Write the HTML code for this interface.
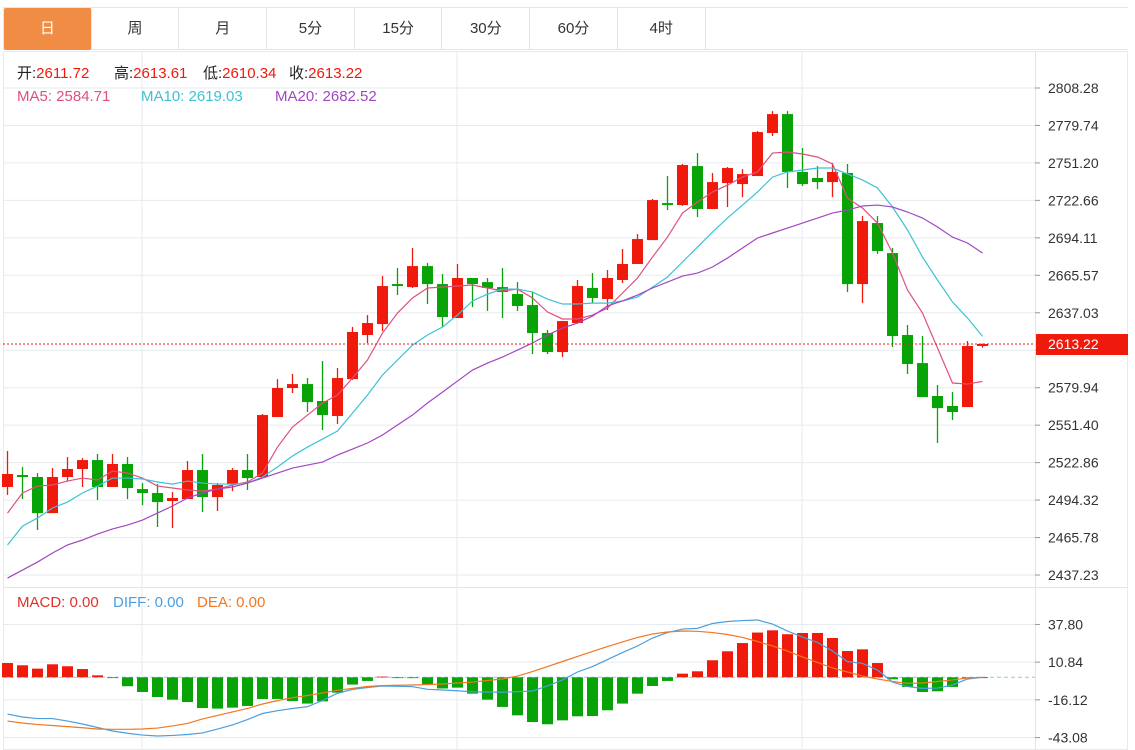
<!DOCTYPE html>
<html><head><meta charset="utf-8">
<style>
body{margin:0;background:#fff;width:1135px;height:750px;overflow:hidden;font-family:"Liberation Sans","Noto Sans CJK SC",sans-serif;}
#tabs{position:absolute;left:3px;top:7px;width:1125px;height:43px;border:1px solid #e3e6ea;border-right:none;display:flex;box-sizing:border-box}
.tab{width:87.7px;height:42px;line-height:42px;text-align:center;font-size:15px;color:#333;border-right:1px solid #e3e6ea;box-sizing:border-box}
.tab.active{background:#f08c44;color:#fff;border-radius:2px}
svg{position:absolute;left:0;top:0}
</style></head><body>
<div id="tabs">
<div class="tab active">日</div>
<div class="tab">周</div>
<div class="tab">月</div>
<div class="tab">5分</div>
<div class="tab">15分</div>
<div class="tab">30分</div>
<div class="tab">60分</div>
<div class="tab">4时</div>
</div>
<svg id="chart" width="1135" height="750"></svg>
<script>
const opens=[2504.3,2513.4,2511.9,2484.4,2511.9,2518.0,2524.8,2504.3,2521.8,2502.7,2499.7,2493.6,2495.1,2517.2,2496.6,2506.5,2517.2,2511.9,2557.6,2579.7,2582.7,2569.8,2558.4,2586.5,2620.1,2628.4,2658.9,2656.6,2672.6,2658.9,2633.0,2663.5,2660.4,2656.6,2651.3,2642.9,2621.6,2607.1,2629.2,2655.9,2647.5,2662.0,2674.2,2692.4,2720.6,2719.1,2748.8,2716.1,2735.9,2735.1,2741.2,2774.0,2788.4,2744.3,2739.7,2736.6,2743.5,2658.9,2705.4,2682.5,2620.1,2598.7,2573.6,2566.0,2565.2,2611.72];
const closes=[2514.2,2511.9,2484.4,2511.9,2518.0,2524.8,2504.3,2521.8,2503.5,2499.7,2492.8,2495.9,2517.2,2496.6,2505.8,2517.2,2511.1,2559.1,2579.7,2582.7,2569.0,2559.1,2587.3,2622.4,2629.2,2657.4,2657.4,2672.6,2658.9,2633.8,2663.5,2658.9,2655.9,2652.8,2642.2,2621.6,2607.1,2630.7,2657.4,2648.3,2663.5,2674.2,2693.2,2722.9,2719.1,2749.6,2716.1,2736.6,2747.3,2742.7,2774.7,2788.4,2744.3,2735.1,2736.6,2744.3,2658.9,2706.9,2684.1,2619.3,2598.0,2572.8,2564.4,2561.4,2611.7,2613.22];
const highs=[2531.7,2519.5,2514.9,2518.7,2527.1,2526.3,2529.4,2529.4,2527.1,2507.3,2506.5,2500.4,2524.1,2529.4,2507.3,2518.7,2529.4,2559.9,2586.5,2590.4,2587.3,2600.3,2594.9,2626.2,2635.3,2665.0,2671.1,2686.4,2674.9,2666.5,2674.2,2663.5,2663.5,2671.1,2660.4,2652.8,2623.9,2630.7,2662.0,2667.3,2669.6,2685.6,2697.0,2723.7,2741.2,2750.4,2758.7,2743.5,2748.1,2746.5,2775.5,2790.7,2790.7,2762.5,2748.8,2751.1,2750.4,2710.7,2710.7,2686.4,2627.7,2619.3,2582.0,2576.6,2615.5,2613.61];
const lows=[2498.2,2495.1,2471.5,2484.4,2508.8,2504.3,2494.4,2504.3,2495.1,2490.5,2473.8,2473.0,2495.1,2485.2,2486.0,2501.2,2502.0,2511.9,2557.6,2575.9,2561.4,2547.7,2552.3,2585.8,2614.0,2623.1,2650.5,2655.9,2643.7,2626.2,2633.0,2641.4,2638.4,2633.0,2638.4,2605.6,2605.6,2603.3,2629.2,2644.4,2639.1,2659.7,2674.2,2692.4,2715.3,2718.4,2710.0,2716.1,2717.6,2725.2,2741.2,2771.7,2732.1,2733.6,2731.3,2725.2,2652.8,2644.4,2681.8,2610.9,2590.4,2572.8,2537.8,2555.3,2565.2,2610.34];
const ma5=[2484.4,2499.7,2505.0,2505.8,2508.8,2511.1,2509.6,2516.4,2514.9,2511.1,2505.0,2503.5,2502.0,2501.2,2502.7,2505.8,2508.1,2514.9,2534.7,2550.0,2559.1,2568.3,2574.4,2587.3,2601.0,2621.6,2636.8,2648.3,2655.9,2656.6,2657.4,2658.2,2655.9,2653.6,2655.1,2648.3,2637.6,2632.3,2632.3,2635.3,2640.6,2652.1,2663.5,2679.5,2694.7,2713.0,2721.4,2729.0,2734.3,2740.4,2744.3,2758.7,2759.5,2758.0,2755.7,2750.4,2724.4,2716.8,2705.4,2682.5,2654.4,2636.8,2610.2,2583.5,2582.7,2584.71];
const ma10=[2460.1,2474.5,2480.6,2488.3,2492.8,2499.7,2505.0,2511.1,2511.1,2510.4,2508.1,2506.5,2508.8,2507.3,2506.5,2506.5,2507.3,2511.9,2519.5,2527.9,2534.7,2540.8,2546.9,2560.6,2574.4,2589.6,2601.0,2612.4,2620.1,2626.2,2635.3,2646.0,2651.3,2655.1,2655.1,2652.8,2647.5,2643.7,2643.7,2644.4,2644.4,2646.0,2649.0,2656.6,2664.3,2675.7,2687.1,2698.5,2709.2,2719.1,2729.0,2740.4,2744.3,2745.8,2747.3,2747.3,2742.7,2738.2,2732.1,2717.6,2700.1,2679.5,2662.0,2645.2,2633.0,2619.03];
const ma20=[2434.9,2441.0,2447.1,2454.0,2460.1,2463.9,2468.4,2472.3,2475.3,2479.1,2484.4,2489.8,2495.9,2499.7,2502.7,2504.3,2507.3,2511.1,2514.9,2518.7,2521.0,2523.3,2528.6,2533.2,2537.8,2543.9,2551.5,2559.1,2568.3,2576.6,2585.0,2593.4,2598.7,2603.3,2608.6,2614.0,2620.1,2625.4,2629.2,2634.5,2642.2,2646.0,2650.5,2655.9,2660.4,2665.0,2667.3,2671.9,2678.7,2686.4,2694.0,2697.8,2701.6,2705.4,2709.2,2713.0,2715.3,2718.4,2719.1,2717.6,2713.8,2709.2,2702.4,2694.7,2690.2,2682.52];
const macd=[10.2,8.6,6.2,9.3,7.9,5.9,1.4,-0.3,-6.4,-10.5,-14.1,-16,-17.7,-22,-22.4,-21.7,-20.5,-15.5,-15.5,-17,-18.8,-17.2,-11,-5.2,-2.6,0.5,-0.2,-0.6,-5,-8,-7.4,-11.7,-16,-21.2,-27.2,-32,-33.6,-30.8,-27.9,-27.7,-23.6,-18.8,-11.7,-6.2,-2.6,2.6,4.3,12.2,18.6,24.5,32,33.6,30.8,31.7,31.7,28.1,18.8,20,10.2,-1.4,-6.9,-10.5,-10,-6.9,-0.2,0];
const diff=[-26.3,-28.4,-29.5,-29.5,-31.3,-33.4,-35.9,-38.4,-40,-41.3,-42,-41.6,-40.9,-39.8,-37,-34.1,-30.2,-25.9,-23.9,-22.3,-21,-16.6,-11.4,-8.7,-7.3,-6.2,-6.4,-6.7,-8.6,-9.1,-9.6,-10.4,-10.5,-10.7,-10.3,-9.8,-6.2,-1.9,3.8,7.7,12.7,17.7,22.4,28.1,32,34.5,35,38.5,39.9,40.6,41,38.1,33.1,28.8,24.9,18.8,11.2,9.9,5.2,-3.4,-6.6,-7.9,-7.7,-5.5,-1.2,0];
const dea=[-31.3,-32.7,-33.8,-34.5,-35.3,-36.1,-37,-37.2,-37.2,-37,-36.3,-34.8,-33,-29.8,-27.3,-24.8,-22.3,-19.1,-16.7,-14.6,-13,-11.2,-9.3,-7.9,-6.6,-5.9,-5.7,-5.5,-5.2,-4.8,-4.1,-3.4,-2.3,-1.2,0.9,4.1,7.7,11.3,14.9,18.5,22,25.3,28.5,31,32.4,33.1,32.9,32,30.6,28.5,25.6,22.4,18.8,14.5,10.6,6.7,3.8,0.9,-1.2,-3,-4.3,-4.1,-3,-1.9,-0.5,0];
const priceTicks=["2808.28","2779.74","2751.20","2722.66","2694.11","2665.57","2637.03","2608.49","2579.94","2551.40","2522.86","2494.32","2465.78","2437.23"];
const macdTicks=["37.80","10.84","-16.12","-43.08"];
const lastPrice=2613.22;

const NS="http://www.w3.org/2000/svg";
const svg=document.getElementById('chart');
const RED="#f01a0c",GREEN="#07a307",GRID="#e6ebf0";
function px(i){return 7.5+15*i;}
function py(p){return 88+(2808.28-p)*1.3125;}
function my(v){return 677.3-v*1.398;}
function el(tag,attrs,parent){const e=document.createElementNS(NS,tag);for(const k in attrs)e.setAttribute(k,attrs[k]);(parent||svg).appendChild(e);return e;}
const fr=el('g',{});


el('rect',{x:3.5,y:51.5,width:1124,height:698,fill:'none',stroke:GRID},fr);
el('line',{x1:3,x2:1128,y1:587.5,y2:587.5,stroke:'#dfe4ea'},fr);
el('line',{x1:1035.5,x2:1035.5,y1:51,y2:750,stroke:'#dfe4ea'},fr);
[142,457,802].forEach(x=>{el('line',{x1:x,x2:x,y1:51,y2:750,stroke:GRID},fr);});
priceTicks.forEach(t=>{const y=py(parseFloat(t));
 el('line',{x1:3,x2:1035,y1:y,y2:y,stroke:GRID},fr);
 el('line',{x1:1035,x2:1040,y1:y,y2:y,stroke:'#999'},fr);
 const tx=el('text',{x:1048,y:y+5,'font-size':14,fill:'#333'},fr);tx.textContent=t;
 
 
});
macdTicks.forEach(t=>{const y=my(parseFloat(t));
 el('line',{x1:3,x2:1035,y1:y,y2:y,stroke:GRID},fr);
 el('line',{x1:1035,x2:1040,y1:y,y2:y,stroke:'#999'},fr);
 const tx=el('text',{x:1048,y:y+5,'font-size':14,fill:'#333'},fr);tx.textContent=t;
 
 
});
el('line',{x1:3,x2:1035,y1:my(0),y2:my(0),stroke:'#8ccbea','stroke-dasharray':'4,3'},fr);
const cg=el('g',{});


opens.forEach((o,i)=>{const c=closes[i];const col=c>=o?RED:GREEN;const x=px(i);
 const g=el('g',{},cg);
 
 
 el('line',{x1:x,x2:x,y1:py(highs[i]),y2:py(lows[i]),stroke:col,'stroke-width':1.3},g);
 const top=py(Math.max(o,c)),bot=py(Math.min(o,c));
 el('rect',{x:x-5.5,y:top,width:11,height:Math.max(bot-top,1.5),fill:col},g);
});
function line(arr,f,col,name){const p=el('polyline',{points:arr.map((v,i)=>px(i)+','+f(v)).join(' '),fill:'none',stroke:col,'stroke-width':1.2});
 
 }
line(ma5,py,'#e0507e','ma5-line');
line(ma10,py,'#3cc2d6','ma10-line');
line(ma20,py,'#a347c2','ma20-line');
const ly=py(lastPrice);
const ll=el('line',{x1:3,x2:1035,y1:ly,y2:ly,stroke:RED,'stroke-dasharray':'2,2'});


const lb=el('rect',{x:1036,y:ly-10,width:92,height:21,fill:RED});


const lt=el('text',{x:1048,y:ly+5,'font-size':14,fill:'#fff'});lt.textContent=lastPrice.toFixed(2);


const mg=el('g',{});


macd.forEach((v,i)=>{const y0=my(0),y1=my(v);
 const r=el('rect',{x:px(i)-5.5,y:Math.min(y0,y1),width:11,height:Math.max(Math.abs(y1-y0),0.8),fill:v>=0?RED:GREEN},mg);
 
 
});
line(diff,my,'#4a9fe0','diff-line');
line(dea,my,'#f07822','dea-line');
function legend(y,items,name){const g=el('g',{});
 
 
 items.forEach(([x,parts])=>{const t=el('text',{x:x,y:y,'font-size':15},g);
  parts.forEach(([s,c])=>{const ts=el('tspan',{fill:c},t);ts.textContent=s;});});}
legend(78,[[17,[['开:','#222'],['2611.72',RED]]],[114,[['高:','#222'],['2613.61',RED]]],[203,[['低:','#222'],['2610.34',RED]]],[289,[['收:','#222'],['2613.22',RED]]]],'ohlc-legend');
legend(101,[[17,[['MA5: 2584.71','#e0507e']]],[141,[['MA10: 2619.03','#3cc2d6']]],[275,[['MA20: 2682.52','#a347c2']]]],'ma-legend');
legend(607,[[17,[['MACD: 0.00','#e0302a']]],[113,[['DIFF: 0.00','#4a9fe0']]],[197,[['DEA: 0.00','#f07822']]]],'macd-legend');
</script>
</body></html>
